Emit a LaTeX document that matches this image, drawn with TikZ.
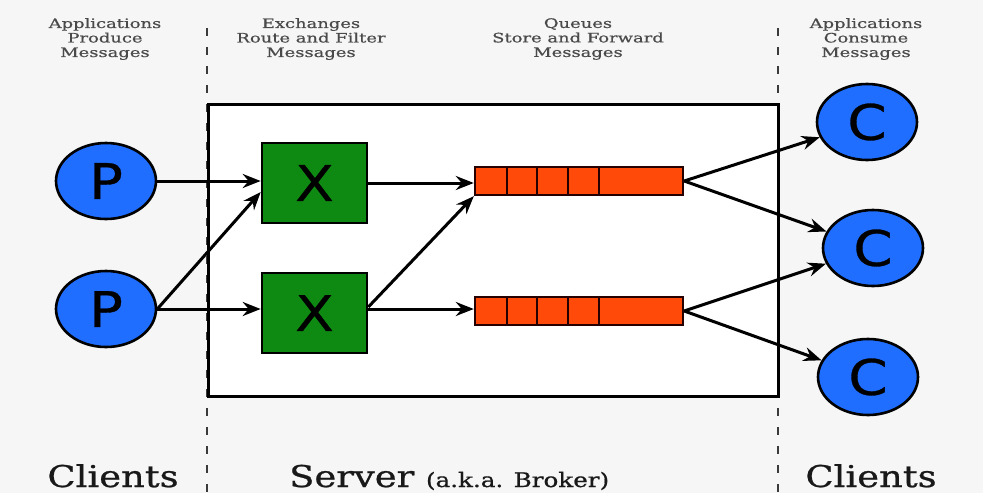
\documentclass[tikz,border=0pt]{standalone}
\usepackage{fontspec}
\setmainfont{DejaVu Serif}
\newfontfamily\headfont{DejaVu Serif}[FakeStretch=1.38,FakeBold=0.6]
\newfontfamily\footfont{DejaVu Serif}[FakeStretch=1.23,FakeBold=0.8]
\newfontfamily\letterfont{DejaVu Sans}[FakeStretch=1.15,FakeBold=0.6]
\usetikzlibrary{shapes.geometric,arrows.meta}

\definecolor{pagebg}{HTML}{F6F6F6}
\definecolor{cblue}{HTML}{1F6EFF}
\definecolor{xgreen}{HTML}{0E8A12}
\definecolor{qred}{HTML}{FF4A0A}
\definecolor{headgray}{HTML}{4A4A4A}
\definecolor{divgray}{HTML}{3A3A3A}

\tikzset{
  app/.style={ellipse, draw=black, line width=2.6pt, fill=cblue,
    minimum width=100pt, minimum height=76pt, inner sep=0pt,
    font=\letterfont\fontsize{49}{49}\selectfont},
  exch/.style={rectangle, draw=black, line width=2.6pt, fill=xgreen,
    minimum width=105pt, minimum height=80pt, inner sep=0pt,
    font=\letterfont\fontsize{49}{49}\selectfont},
  queue/.style={rectangle, draw=black!85!red, line width=2.4pt, fill=qred,
    minimum width=208pt, minimum height=28pt, inner sep=0pt},
  slot/.style={draw=black!85!red, line width=2.4pt},
  flow/.style={line width=3pt, -{Stealth[length=18pt,width=14pt,inset=6pt]}},
  divider/.style={draw=divgray, line width=2.2pt, dash pattern=on 8pt off 11pt},
  head/.style={text=headgray, align=center, inner sep=0pt,
    font=\headfont\fontsize{13}{14.5}\selectfont},
  foot/.style={text=black!90, inner sep=0pt, anchor=base,
    font=\footfont\fontsize{30}{30}\selectfont},
}

\begin{document}
\begin{tikzpicture}[x=1pt,y=-1pt]
  % canvas
  \fill[pagebg] (0,0) rectangle (983,493);
  \useasboundingbox (0,0) rectangle (983,493);

  % column dividers
  \draw[divider] (207,28) -- (207,492);
  \draw[divider] (778,28) -- (778,492);

  % broker frame
  \draw[line width=3pt, fill=white] (208,104) rectangle (778,396);

  % column headings
  \node[head] (h1) at (105,39) {Applications\\Produce\\Messages};
  \node[head] (h2) at (311,39) {Exchanges\\Route and Filter\\Messages};
  \node[head] (h3) at (578,39) {Queues\\Store and Forward\\Messages};
  \node[head] (h4) at (866,39) {Applications\\Consume\\Messages};

  % footer labels
  \node[foot] (f1) at (113,487) {Clients};
  \node[foot, anchor=base west] (f2) at (289,487)
    {Server {\fontsize{20}{20}\selectfont (a.k.a. Broker)}};
  \node[foot] (f3) at (871,487) {Clients};

  % producers
  \node[app] (P1) at (106,181) {P};
  \node[app] (P2) at (106,309) {P};

  % exchanges
  \node[exch] (X1) at (314.5,183) {X};
  \node[exch] (X2) at (314.5,313) {X};

  % queues
  \node[queue] (Q1) at (579,181) {};
  \node[queue] (Q2) at (579,311) {};
  \foreach \q in {Q1,Q2}
    \foreach \d in {33,63,94,125}
      \draw[slot] ([xshift=\d pt]\q.north west) -- ([xshift=\d pt]\q.south west);

  % consumers
  \node[app] (C1) at (867,122) {C};
  \node[app] (C2) at (873,248) {C};
  \node[app] (C3) at (868,377) {C};

  % message flow
  \draw[flow] (P1.east) -- (P1.east -| X1.west);
  \draw[flow] (P2.east) -- ([yshift=-9pt]X1.west);
  \draw[flow] (P2.east) -- (P2.east -| X2.west);
  \draw[flow] (X1.east) -- (X1.east -| Q1.west);
  \draw[flow] ([yshift=6pt]X2.east) -- (Q1.south west);
  \draw[flow] ([yshift=4pt]X2.east) -- ([yshift=4pt]X2.east -| Q2.west);
  \draw[flow] (Q1.east) -- (C1);
  \draw[flow] (Q1.east) -- (C2);
  \draw[flow] (Q2.east) -- (C2);
  \draw[flow] (Q2.east) -- (C3);
\end{tikzpicture}
\end{document}
